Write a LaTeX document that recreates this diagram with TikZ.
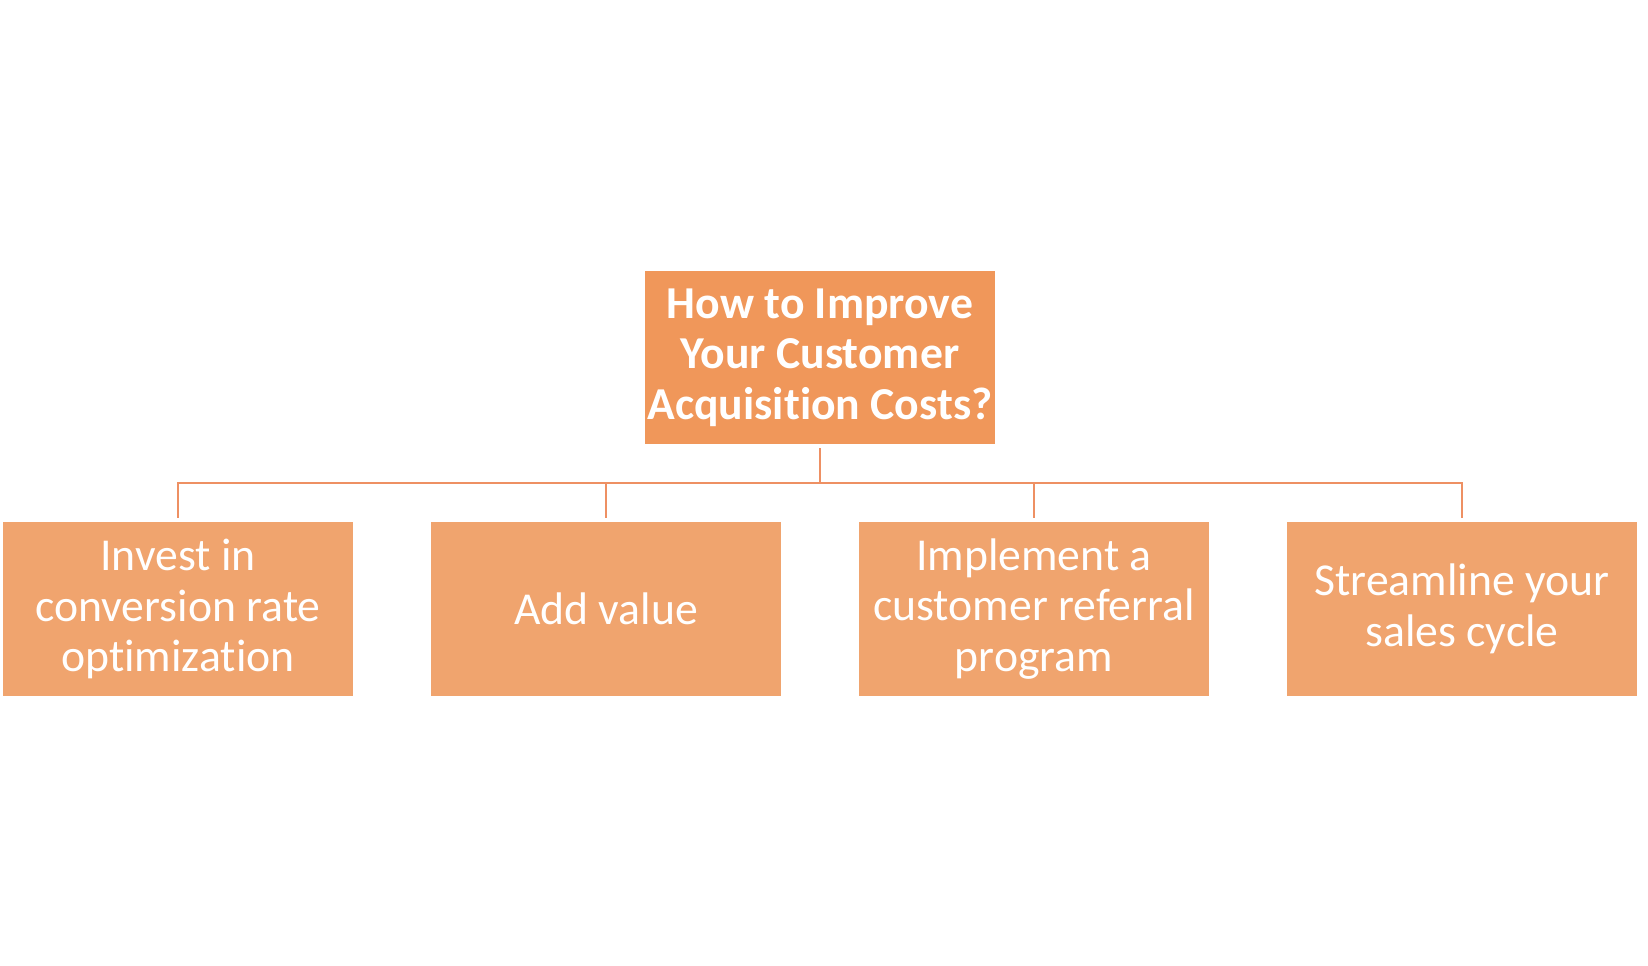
\documentclass[tikz,border=0pt]{standalone}
\usepackage{fontspec}
\setmainfont[Ligatures=NoCommon]{Carlito}
\usepackage{tikz}
\usetikzlibrary{positioning}
\definecolor{cacTop}{HTML}{F0975A}
\definecolor{cacBox}{HTML}{F0A46E}
\definecolor{cacLine}{HTML}{EE9063}

\begin{document}
\begin{tikzpicture}[
  box/.style={fill=cacBox,text=white,minimum width=7.0cm,minimum height=3.48cm,
    inner sep=0pt,align=center,font=\fontsize{26}{28.7}\selectfont},
  topbox/.style={box,fill=cacTop,minimum height=3.46cm,
    font=\fontsize{26}{28.7}\selectfont\bfseries},
  link/.style={cacLine,line width=1.1pt,shorten <=0.08cm,shorten >=0.08cm}]
\useasboundingbox (0,0) rectangle (32.96,-19.32);
\node[topbox] (top) at (16.4,-7.15) {How to Improve\\Your Customer\\Acquisition Costs?};
\foreach \x/\i/\txt in {
  3.56/1/{Invest in\\conversion rate\\optimization},
  12.12/2/{Add value},
  20.68/3/{Implement a\\customer referral\\program},
  29.24/4/{Streamline your\\sales cycle}}{
  \node[box] (c\i) at (\x,-12.18) {\txt};
  \draw[link] (top.south) -- ++(0,-0.78) -| (c\i.north);
}
\end{tikzpicture}
\end{document}
